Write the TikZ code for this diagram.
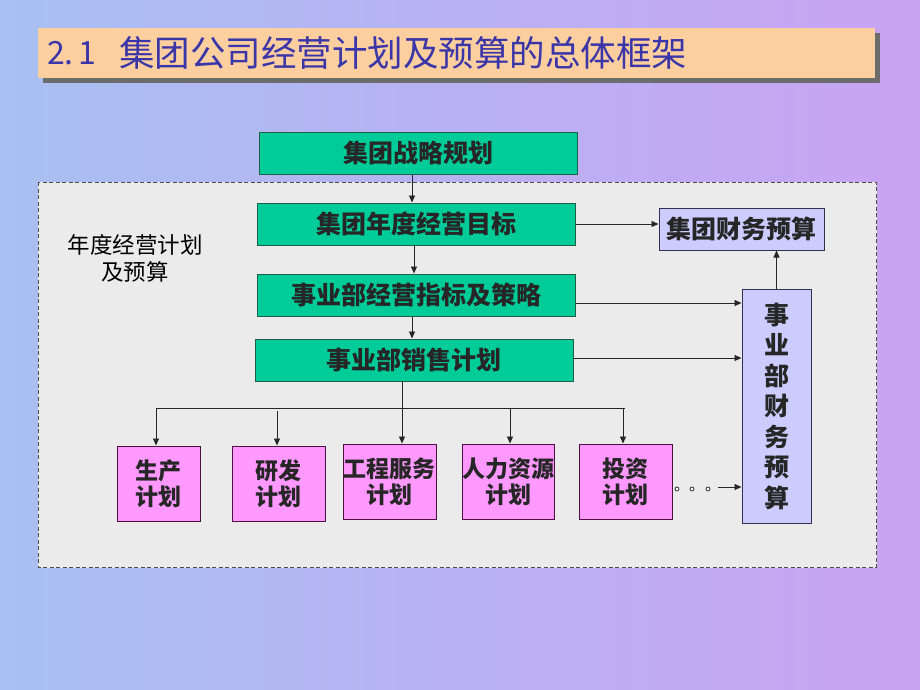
\documentclass[tikz,border=0pt]{standalone}
\usepackage{fontspec}
\newfontfamily\cjk{Noto Sans CJK SC}
\usetikzlibrary{arrows.meta}
\definecolor{bgL}{HTML}{A8C0F2}
\definecolor{bgR}{HTML}{C9A3F2}
\definecolor{titlebar}{HTML}{FDCF9E}
\definecolor{titletext}{HTML}{3A35A8}
\definecolor{panel}{HTML}{EBEBEB}
\definecolor{greenfill}{HTML}{00CC99}
\definecolor{greenline}{HTML}{1F5F45}
\definecolor{pinkfill}{HTML}{FF99FF}
\definecolor{pinkline}{HTML}{4A1040}
\definecolor{bluefill}{HTML}{CCCCFF}
\definecolor{blueline}{HTML}{303050}
\tikzset{
  gbox/.style={draw=greenline, line width=1pt, fill=greenfill, minimum width=318pt, minimum height=42pt, inner sep=0pt, text=black!85, font=\cjk\bfseries\fontsize{25}{28}\selectfont},
  pbox/.style={draw=pinkline, line width=1pt, fill=pinkfill, minimum height=75pt, inner sep=0pt, align=center, text=black!85, font=\cjk\bfseries\fontsize{23}{26}\selectfont},
  bbox/.style={draw=blueline, line width=1pt, fill=bluefill, inner sep=0pt, align=center, text=black!85, font=\cjk\bfseries\fontsize{25}{30.5}\selectfont},
  arr/.style={draw=black!85, line width=0.9pt, -{Triangle[length=7pt,width=6pt]}},
  ln/.style={draw=black!85, line width=0.9pt},
}
\begin{document}
\begin{tikzpicture}[x=1pt,y=-1pt]
\useasboundingbox (0,0) rectangle (920,690);
\shade[left color=bgL, right color=bgR] (0,0) rectangle (920,690);
% title bar
\fill[gray!85!black] (43,33) rectangle (880,83);
\fill[titlebar] (38,28) rectangle (875,78);
\node[anchor=west, text=titletext, font=\cjk\fontsize{32}{36}\selectfont, inner sep=0pt] (num) at (47,53) {2.\hspace{5pt}1};
\node[anchor=west, text=titletext, font=\cjk\fontsize{35.5}{38}\selectfont, inner sep=0pt] (title) at (119,53) {集团公司经营计划及预算的总体框架};
% panel
\draw[panel, fill=panel] (38,182) rectangle (876,567);
\draw[black!70, line width=0.9pt, dash pattern=on 4pt off 2.5pt] (38,182) rectangle (876,567);
\node[align=center, font=\cjk\fontsize{22.5}{27}\selectfont, inner sep=0pt] (lab) at (135,258) {年度经营计划\\及预算};
% green boxes
\node[gbox] (g1) at (418,153) {集团战略规划};
\node[gbox] (g2) at (416,224) {集团年度经营目标};
\node[gbox] (g3) at (416,295) {事业部经营指标及策略};
\node[gbox] (g4) at (414,360) {事业部销售计划};
% blue boxes
\node[bbox, minimum width=165pt, minimum height=42pt] (b1) at (741.5,229) {集团财务预算};
\node[bbox, minimum width=69pt, minimum height=234pt] (b2) at (776.5,406) {事\\业\\部\\财\\务\\预\\算};
% pink boxes
\node[pbox, minimum width=83pt] (p1) at (158.5,483.5) {生产\\计划};
\node[pbox, minimum width=93pt] (p2) at (278.5,483.5) {研发\\计划};
\node[pbox, minimum width=93pt] (p3) at (389.5,481.5) {工程服务\\计划};
\node[pbox, minimum width=92pt] (p4) at (508,481.5) {人力资源\\计划};
\node[pbox, minimum width=93pt] (p5) at (625.5,481.5) {投资\\计划};
% vertical chain
\draw[arr] (412,0 |- g1.south) -- (412,0 |- g2.north);
\draw[arr] (414,0 |- g2.south) -- (414,0 |- g3.north);
\draw[arr] (412,0 |- g3.south) -- (412,0 |- g4.north);
% distribution
\coordinate (bl) at (156,408);
\coordinate (br) at (625,408);
\draw[ln] (bl) -- (br);
\draw[ln] (402,0 |- g4.south) -- (402,408);
\draw[arr] (bl) -- (156,0 |- p1.north);
\draw[arr] (277,411) -- (277,0 |- p2.north);
\draw[arr] (402,408) -- (402,0 |- p3.north);
\draw[arr] (510,408) -- (510,0 |- p4.north);
\draw[arr] (623,408) -- (623,0 |- p5.north);
% dots
\foreach \x in {677,692,708} \draw[black!80, line width=0.8pt, fill=white] (\x,489) circle (2pt);
\coordinate (dotsend) at (718,487);
\draw[arr] (dotsend) -- (b2.west |- dotsend);
% right arrows
\coordinate (g3out) at ([yshift=-8pt]g3.east);
\coordinate (g4out) at ([yshift=2pt]g4.east);
\draw[arr] (g2.east) -- (b1.west |- g2.east);
\draw[arr] (g3out) -- (b2.west |- g3out);
\draw[arr] (g4out) -- (b2.west |- g4out);
\draw[arr] (b2.north) -- (b2.north |- b1.south);
\end{tikzpicture}
\end{document}
